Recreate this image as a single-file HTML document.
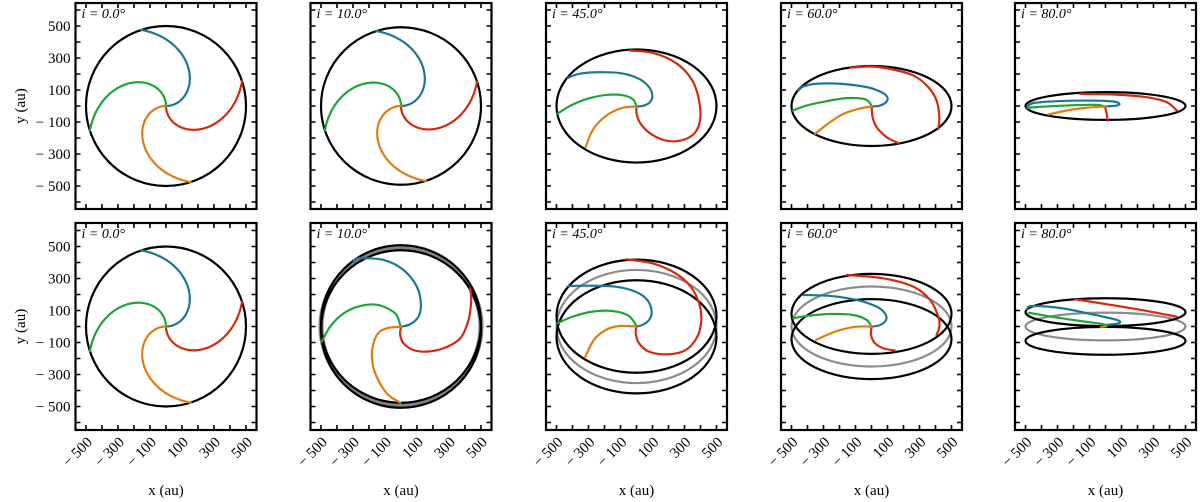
<!DOCTYPE html>
<html><head><meta charset="utf-8"><style>
html,body{margin:0;padding:0;background:#fff;}
svg{display:block;font-family:"Liberation Serif",serif;}
</style></head><body>
<svg id="fig" width="1200" height="502" viewBox="0 0 1200 502" xmlns="http://www.w3.org/2000/svg"></svg>
<script>
// ---- data ----
const inclinations = [0, 10, 45, 60, 80];
const xTicks = [-500,-400,-300,-200,-100,0,100,200,300,400,500];
const yTicks = [-600,-500,-400,-300,-200,-100,0,100,200,300,400,500,600];
const xTickLabels = [-500,-300,-100,100,300,500];
const yTickLabels = [500,300,100,-100,-300,-500];
const diskRadius = 500;
const diskHeight = 91;
const armStartAngles = [-90, 0, 90, 180]; // red, blue, green, orange (deg)
const armWinding = 0.216; // deg per au
const armColors = ["#d42a0e","#1c7795","#1fa33a","#e07d12"];

// digitized arms (red, blue, green, orange) per panel
const top45Red = [[0,-3],[1,-49],[26,-111],[89,-174],[182,-216],[276,-216],[359,-174],[397,-91],[391,34],[349,159],[255,263],[109,330],[-41,347]];
const top45Blue = [[0,-3],[47,3],[84,24],[99,66],[78,118],[16,170],[-99,205],[-245,211],[-359,201],[-428,176]];
const top45Green = [[-495,-49],[-411,3],[-307,45],[-182,70],[-78,66],[-20,39],[0,-3]];
const top45Orange = [[0,-3],[-88,-11],[-172,-49],[-245,-111],[-286,-174],[-318,-257]];

const top60RedA = [[1,-3],[7,-70],[32,-132],[95,-195],[168,-232]];
const top60RedB = [[418,-143],[424,-70],[407,34],[355,118],[261,191],[116,232],[-9,247],[-134,239]];
const top60Blue = [[1,-3],[53,3],[91,24],[99,55],[63,86],[-30,118],[-197,139],[-343,139],[-426,122],[-457,97]];
const top60Green = [[-493,-28],[-405,3],[-280,30],[-155,49],[-51,45],[-14,24],[1,-3]];
const top60Orange = [[1,-3],[-82,-18],[-176,-49],[-259,-101],[-353,-174]];

const top80RedA = [[-3,-3],[7,-49],[14,-91]];
const top80RedB = [[445,-28],[382,24],[257,55],[49,72],[-159,76]];
const top80Blue = [[-3,-3],[70,3],[86,14],[49,28],[-97,34],[-305,30],[-451,18],[-489,-3]];
const top80Green = [[-489,-11],[-368,-3],[-201,5],[-55,7],[-3,-3]];
const top80Orange = [[-3,-3],[-118,-11],[-243,-28],[-357,-53]];

const bot10Red = [[0,-1],[-5,-53],[16,-105],[78,-147],[161,-157],[266,-136],[370,-74],[422,41],[439,166],[432,239]];
const bot10Blue = [[0,-1],[57,14],[109,61],[124,145],[99,249],[16,353],[-109,416],[-266,426],[-297,405]];
const bot10Green = [[-495,-95],[-443,-1],[-359,82],[-255,128],[-141,134],[-36,82],[-5,9]];
const bot10Orange = [[0,-1],[-89,-11],[-151,-53],[-182,-168],[-161,-293],[-89,-418],[-5,-476]];

const bot45Red = [[0,0],[-5,-43],[16,-105],[78,-157],[193,-174],[307,-147],[380,-64],[405,41],[391,145],[339,249],[245,332],[99,395],[-64,420]];
const bot45Blue = [[0,0],[36,9],[78,40],[95,92],[68,165],[-5,217],[-130,249],[-297,255],[-426,253]];
const bot45Green = [[-495,20],[-401,61],[-276,93],[-151,97],[-57,72],[-16,30],[0,0]];
const bot45Orange = [[0,0],[-109,3],[-193,-22],[-266,-84],[-322,-193]];

const bot60RedA = [[1,-1],[-3,-53],[22,-105],[74,-136],[147,-151]];
const bot60RedB = [[406,-53],[424,-1],[418,61],[366,166],[261,249],[74,301],[-155,322]];
const bot60Blue = [[1,-1],[53,9],[91,41],[84,82],[32,124],[-93,166],[-259,191],[-426,197]];
const bot60Green = [[-489,51],[-405,66],[-259,78],[-113,72],[-30,41],[-3,3]];
const bot60Orange = [[1,-1],[-93,-1],[-197,-22],[-280,-53],[-347,-84]];

const bot80Red = [[-189,170],[40,134],[249,99],[447,61]];
const bot80Blue = [[0,9],[84,20],[72,41],[-64,72],[-272,114],[-459,128],[-491,107]];
const bot80Green = [[-480,86],[-334,61],[-168,36],[-22,16],[9,3]];
const bot80Orange = [[0,0],[-30,-2]];

// ---- layout ----
const NS = "http://www.w3.org/2000/svg";
const svg = document.getElementById("fig");
const panelLefts = [75.5, 310.5, 546, 781, 1015];
const panelW = 181;
const rows = [{top:3, bottom:209}, {top:223, bottom:430}];
const scale = 0.16;

function mk(tag, attrs, parent){
  const e = document.createElementNS(NS, tag);
  for (const k in attrs) e.setAttribute(k, attrs[k]);
  (parent||svg).appendChild(e);
  return e;
}
function sx(p, v){ return panelLefts[p] + panelW/2 + v*scale; }
function sy(r, v){ return (rows[r].top + rows[r].bottom)/2 - v*scale; }

function smoothPath(P){
  if (P.length < 3) return P.map((q,k)=>(k?"L":"M")+q[0].toFixed(2)+","+q[1].toFixed(2)).join("");
  let d = "M"+P[0][0].toFixed(2)+","+P[0][1].toFixed(2);
  for (let i=0;i<P.length-1;i++){
    const p0=P[Math.max(0,i-1)], p1=P[i], p2=P[i+1], p3=P[Math.min(P.length-1,i+2)];
    const c1=[p1[0]+(p2[0]-p0[0])/6, p1[1]+(p2[1]-p0[1])/6];
    const c2=[p2[0]-(p3[0]-p1[0])/6, p2[1]-(p3[1]-p1[1])/6];
    d += "C"+c1[0].toFixed(2)+","+c1[1].toFixed(2)+" "+c2[0].toFixed(2)+","+c2[1].toFixed(2)+" "+p2[0].toFixed(2)+","+p2[1].toFixed(2);
  }
  return d;
}
function polyline(p, r, pts, color, name){
  const P = pts.map(q=>[sx(p,q[0]), sy(r,q[1])]);
  const e = mk("path", {d:smoothPath(P), fill:"none", stroke:color, "stroke-width":2.2, "stroke-linecap":"round", "stroke-linejoin":"round"});
  
  
}
function formulaArm(incl, k){
  const pts = [];
  const c = Math.cos(incl*Math.PI/180);
  for (let rr=0; rr<=diskRadius; rr+=5){
    const th = (armStartAngles[k] + armWinding*rr)*Math.PI/180;
    pts.push([rr*Math.cos(th), rr*Math.sin(th)*c]);
  }
  return pts;
}
function ellipse(p, r, cyData, incl, color, width, name){
  const e = mk("ellipse", {cx:sx(p,0), cy:sy(r,cyData), rx:diskRadius*scale, ry:diskRadius*Math.cos(incl*Math.PI/180)*scale, fill:"none", stroke:color, "stroke-width":width});
  
  
}

const armNames = ["red-arm","blue-arm","green-arm","orange-arm"];
const digitized = {
  "0-2":[[top45Red],[top45Blue],[top45Green],[top45Orange]],
  "0-3":[[top60RedA,top60RedB],[top60Blue],[top60Green],[top60Orange]],
  "0-4":[[top80RedA,top80RedB],[top80Blue],[top80Green],[top80Orange]],
  "1-1":[[bot10Red],[bot10Blue],[bot10Green],[bot10Orange]],
  "1-2":[[bot45Red],[bot45Blue],[bot45Green],[bot45Orange]],
  "1-3":[[bot60RedA,bot60RedB],[bot60Blue],[bot60Green],[bot60Orange]],
  "1-4":[[bot80Red],[bot80Blue],[bot80Green],[bot80Orange]]
};

for (let r=0; r<2; r++){
  for (let p=0; p<5; p++){
    const incl = inclinations[p];
    const top = rows[r].top, bot = rows[r].bottom, left = panelLefts[p];
    // disk
    if (r===0 || incl===0){
      ellipse(p, r, 0, incl, "#000", 2.2, "disk-outline");
    } else {
      const off = diskHeight*Math.sin(incl*Math.PI/180);
      if (incl===10){
        ellipse(p, r, 0, incl, "#808080", off*2*scale, "disk-edge-band");
      } else {
        ellipse(p, r, 0, incl, "#8c8c8c", 2.2, "disk-midplane");
      }
      ellipse(p, r, off, incl, "#000", 2.2, "disk-upper-surface");
      ellipse(p, r, -off, incl, "#000", 2.2, "disk-lower-surface");
    }
    // arms
    const key = r+"-"+p;
    for (let k=0; k<4; k++){
      if (digitized[key]){
        digitized[key][k].forEach(seg=>polyline(p, r, seg, armColors[k], armNames[k]));
      } else {
        polyline(p, r, formulaArm(incl,k), armColors[k], armNames[k]);
      }
    }
    // frame
    const fr = mk("rect", {x:left, y:top, width:panelW, height:bot-top, fill:"none", stroke:"#000", "stroke-width":2.2});
    
    
    // ticks
    let td = "";
    xTicks.forEach(v=>{ const x=sx(p,v); td += `M${x},${bot}v-5M${x},${top}v5`; });
    yTicks.forEach(v=>{ const y=sy(r,v); td += `M${left},${y}h5M${left+panelW},${y}h-5`; });
    const tk = mk("path", {d:td, stroke:"#000", "stroke-width":1.6, fill:"none"});
    
    
    // inclination label
    const t = mk("text", {x:left+6, y:top+15, "font-size":14});
    
    
    const ti = mk("tspan", {"font-style":"italic"}, t); ti.textContent = "i";
    const tv = mk("tspan", {"font-style":"italic"}, t); tv.textContent = " = " + incl.toFixed(1) + "°";
    // y tick labels
    if (p===0){
      yTickLabels.forEach(v=>{
        const e = mk("text", {x:left-5, y:sy(r,v)+5, "text-anchor":"end", "font-size":15});
        e.textContent = v<0 ? "− "+Math.abs(v) : String(v);
        
        
      });
      const yl = mk("text", {x:0, y:0, "text-anchor":"middle", "font-size":15, transform:`translate(25,${(top+bot)/2}) rotate(-90)`});
      yl.textContent = "y (au)";
      
      
    }
    // x tick labels
    if (r===1){
      xTickLabels.forEach(v=>{
        const x = sx(p,v)+7, y = bot+13;
        const e = mk("text", {x:0, y:0, "text-anchor":"end", "font-size":15, transform:`translate(${x},${y}) rotate(-45)`});
        e.textContent = v<0 ? "− "+Math.abs(v) : String(v);
        
        
      });
      const xl = mk("text", {x:left+panelW/2, y:495, "text-anchor":"middle", "font-size":15});
      xl.textContent = "x (au)";
      
      
    }
  }
}
</script>
</body></html>
